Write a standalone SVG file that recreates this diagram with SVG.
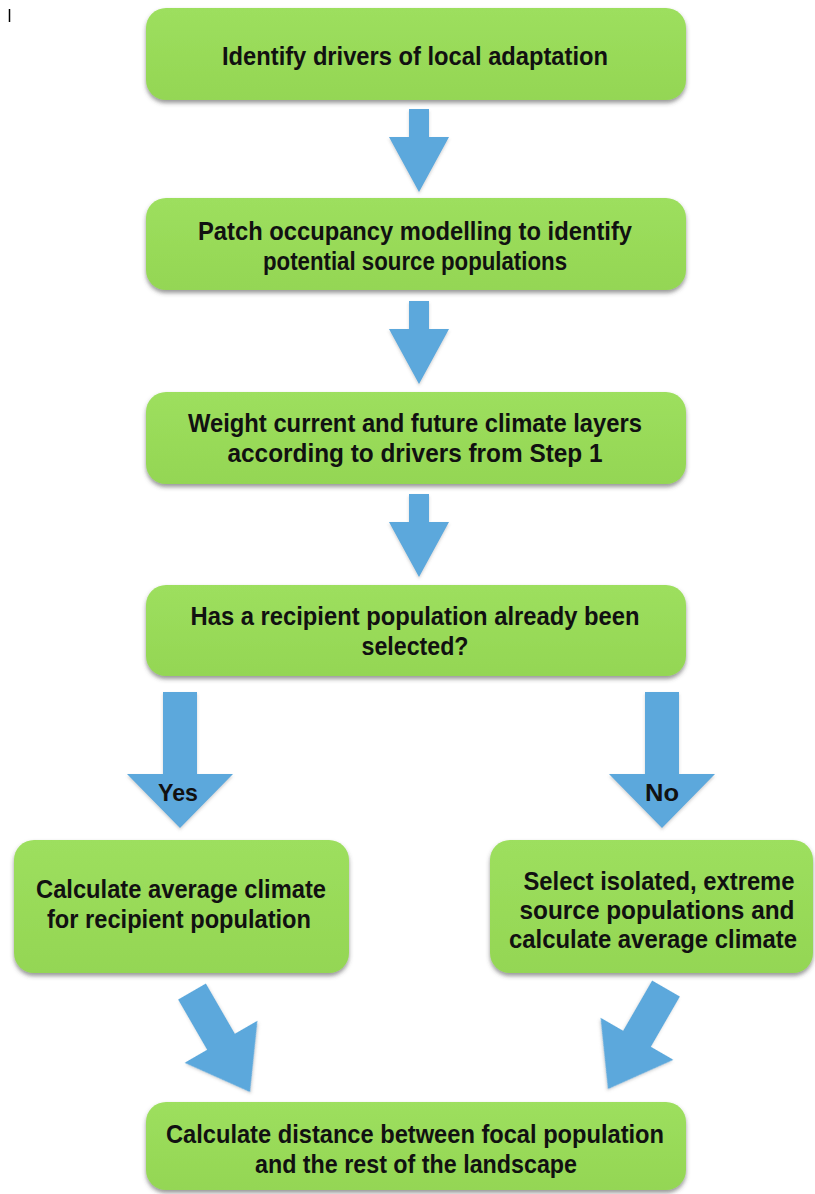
<svg xmlns="http://www.w3.org/2000/svg" width="815" height="1194" viewBox="0 0 815 1194">
  <style>
    .box { fill: url(#g); filter: url(#sh); }
    .t { font-family: "Liberation Sans", Arial, sans-serif; font-weight: bold; font-size: 25px; fill: #111; text-anchor: middle; }
    .lbl { font-family: "Liberation Sans", Arial, sans-serif; font-weight: bold; font-size: 24px; fill: #111; text-anchor: middle; }
    .arr { fill: #5ba8dc; filter: url(#ash); }
  </style>
  <defs>
    <linearGradient id="g" x1="0" y1="0" x2="0" y2="1">
      <stop offset="0" stop-color="#9ddf5e"/>
      <stop offset="1" stop-color="#94d654"/>
    </linearGradient>
    <filter id="sh" x="-5%" y="-10%" width="110%" height="125%">
      <feDropShadow dx="0" dy="3" stdDeviation="2" flood-color="#444" flood-opacity="0.55"/>
    </filter>
    <filter id="ash" x="-20%" y="-20%" width="140%" height="140%">
      <feDropShadow dx="0" dy="2" stdDeviation="1.5" flood-color="#666" flood-opacity="0.3"/>
    </filter>
    <path id="vArrowS" d="M-10,-83 H10 V-55 H30 L0,0 L-30,-55 H-10 Z"/>
    <path id="vArrowL" d="M-17,-136 H17 V-54 H53 L0,0 L-53,-54 H-17 Z"/>
    <path id="dArrow" d="M-16,-116 H16 V-58 H42 L0,0 L-42,-58 H-16 Z"/>
  </defs>

  <line x1="9.5" y1="9" x2="9.5" y2="22" stroke="#000" stroke-width="1.5"/>

  <g id="connectors">
    <use href="#vArrowS" class="arr" transform="translate(419,192)"/>
    <use href="#vArrowS" class="arr" transform="translate(419,384)"/>
    <use href="#vArrowS" class="arr" transform="translate(419,577)"/>
    <g id="yes-arrow">
      <use href="#vArrowL" class="arr" transform="translate(180,828)"/>
      <text class="lbl" x="178" y="801" textLength="40" lengthAdjust="spacingAndGlyphs">Yes</text>
    </g>
    <g id="no-arrow">
      <use href="#vArrowL" class="arr" transform="translate(662,828)"/>
      <text class="lbl" x="662" y="801" textLength="34" lengthAdjust="spacingAndGlyphs">No</text>
    </g>
    <use href="#dArrow" class="arr" transform="translate(250,1092) rotate(-30)"/>
    <use href="#dArrow" class="arr" transform="translate(608,1089) rotate(30)"/>
  </g>

  <g id="n1">
    <rect class="box" x="146" y="8" width="540" height="92" rx="20"/>
    <text class="t" x="415" y="65" textLength="386" lengthAdjust="spacingAndGlyphs">Identify drivers of local adaptation</text>
  </g>
  <g id="n2">
    <rect class="box" x="146" y="198" width="540" height="92" rx="20"/>
    <text class="t" x="415" y="240" textLength="434" lengthAdjust="spacingAndGlyphs">Patch occupancy modelling to identify</text>
    <text class="t" x="415" y="270" textLength="304" lengthAdjust="spacingAndGlyphs">potential source populations</text>
  </g>
  <g id="n3">
    <rect class="box" x="146" y="392" width="540" height="92" rx="20"/>
    <text class="t" x="415" y="432" textLength="454" lengthAdjust="spacingAndGlyphs">Weight current and future climate layers</text>
    <text class="t" x="415" y="462" textLength="375" lengthAdjust="spacingAndGlyphs">according to drivers from Step 1</text>
  </g>
  <g id="n4">
    <rect class="box" x="146" y="585" width="540" height="91" rx="20"/>
    <text class="t" x="415" y="625" textLength="449" lengthAdjust="spacingAndGlyphs">Has a recipient population already been</text>
    <text class="t" x="415" y="655" textLength="107" lengthAdjust="spacingAndGlyphs">selected?</text>
  </g>
  <g id="n5">
    <rect class="box" x="14" y="840" width="335" height="133" rx="20"/>
    <text class="t" x="181" y="898" textLength="290" lengthAdjust="spacingAndGlyphs">Calculate average climate</text>
    <text class="t" x="179" y="928" textLength="264" lengthAdjust="spacingAndGlyphs">for recipient population</text>
  </g>
  <g id="n6">
    <rect class="box" x="490" y="840" width="323" height="133" rx="20"/>
    <text class="t" x="659" y="890" textLength="271" lengthAdjust="spacingAndGlyphs">Select isolated, extreme</text>
    <text class="t" x="657" y="919" textLength="275" lengthAdjust="spacingAndGlyphs">source populations and</text>
    <text class="t" x="653" y="948" textLength="288" lengthAdjust="spacingAndGlyphs">calculate average climate</text>
  </g>
  <g id="n7">
    <rect class="box" x="146" y="1102" width="540" height="88" rx="20"/>
    <text class="t" x="415" y="1143" textLength="498" lengthAdjust="spacingAndGlyphs">Calculate distance between focal population</text>
    <text class="t" x="416" y="1173" textLength="322" lengthAdjust="spacingAndGlyphs">and the rest of the landscape</text>
  </g>
</svg>
